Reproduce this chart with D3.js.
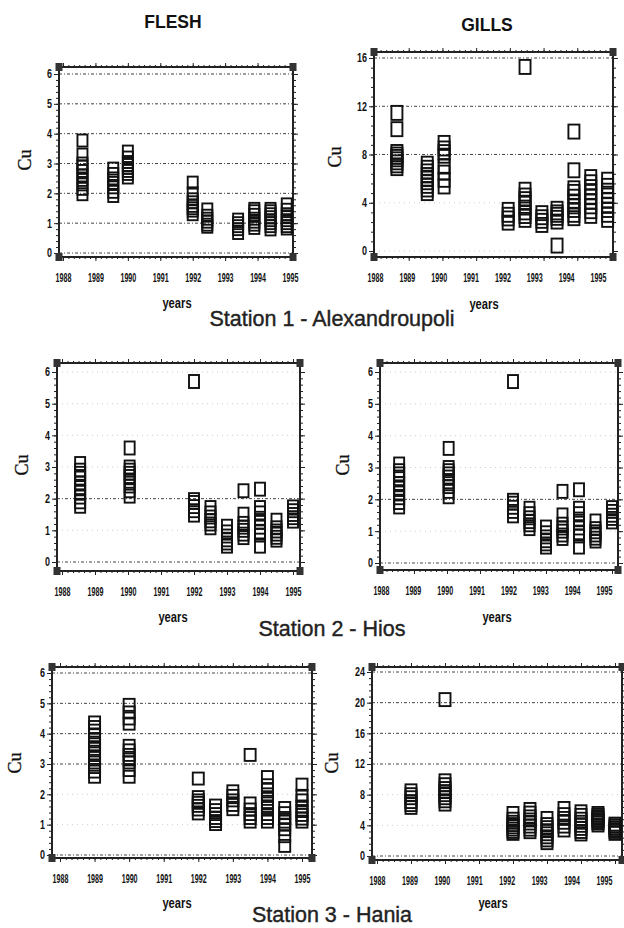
<!DOCTYPE html>
<html>
<head>
<meta charset="utf-8">
<script src="https://cdn.jsdelivr.net/npm/d3@7/dist/d3.min.js"></script>
<style>
	body { margin: 0; background: #fff; }
	svg { display: block; }
	.tick text { font-family: 'Liberation Sans', Arial, sans-serif; font-weight: bold; fill: #111; }
	.tick line { stroke: #222; }
</style>
</head>
<body>
<svg id="chart" width="624" height="928"></svg>
<script>

// ---- data ----

var yearTicks = [1988, 1989, 1990, 1991, 1992, 1993, 1994, 1995];
var fleshTicks = [0, 1, 2, 3, 4, 5, 6];
var alexGillsTicks = [0, 4, 8, 12, 16];
var haniaGillsTicks = [0, 4, 8, 12, 16, 20, 24];

// station 1 - Alexandroupoli
var alexFleshTimes = [1988.6, 1989.55, 1990.0, 1992.0, 1992.45, 1993.4, 1993.9, 1994.4, 1994.9];
var alexFleshCu = [
	[1.97, 2.15, 2.3, 2.45, 2.6, 2.75, 2.9, 3.0, 3.3, 3.77],
	[1.91, 2.05, 2.2, 2.35, 2.5, 2.65, 2.83],
	[2.53, 2.65, 2.75, 2.85, 2.95, 3.05, 3.2, 3.4],
	[1.3, 1.42, 1.5, 1.58, 1.7, 1.8, 2.0, 2.36],
	[0.88, 0.95, 1.05, 1.15, 1.25, 1.46],
	[0.67, 0.8, 0.9, 1.0, 1.12],
	[0.84, 0.95, 1.05, 1.15, 1.28, 1.4, 1.48],
	[0.79, 0.9, 1.0, 1.1, 1.2, 1.3, 1.4, 1.48],
	[0.82, 0.9, 1.0, 1.1, 1.2, 1.3, 1.45, 1.63]
];
var alexGillsTimes = [1988.65, 1989.55, 1990.05, 1991.95, 1992.45, 1992.95, 1993.4, 1993.9, 1994.4, 1994.9];
var alexGillsCu = [
	[6.87, 7.1, 7.35, 7.6, 7.8, 8.0, 8.21, 10.1, 11.45],
	[4.8, 5.1, 5.4, 5.7, 6.0, 6.3, 6.6, 6.9, 7.24],
	[5.35, 5.9, 6.5, 7.0, 7.9, 8.2, 8.5, 8.96],
	[2.35, 2.7, 3.0, 3.41],
	[2.58, 2.9, 3.2, 3.6, 4.0, 4.3, 4.6, 5.08, 15.26],
	[2.16, 2.5, 2.8, 3.14],
	[0.45, 2.44, 2.75, 3.0, 3.2, 3.5],
	[2.72, 3.0, 3.4, 3.7, 4.1, 4.5, 4.9, 5.2, 6.69, 9.9],
	[2.91, 3.3, 3.7, 4.1, 4.5, 4.9, 5.3, 5.7, 6.13],
	[2.58, 3.0, 3.4, 3.8, 4.2, 4.6, 5.0, 5.4, 5.91]
];

// station 2 - Hios
var hiosTimes = [1988.55, 1990.05, 1992.0, 1992.5, 1993.0, 1993.5, 1994.0, 1994.5, 1995.0];
var hiosFleshCu = [
	[1.76, 1.9, 2.05, 2.2, 2.35, 2.5, 2.65, 2.8, 2.9, 3.11],
	[2.08, 2.25, 2.4, 2.55, 2.7, 2.8, 2.9, 3.0, 3.6],
	[1.48, 1.62, 1.75, 1.88, 1.97, 5.7],
	[1.08, 1.2, 1.3, 1.42, 1.55, 1.72],
	[0.5, 0.6, 0.7, 0.82, 0.95, 1.13],
	[0.77, 0.88, 1.0, 1.1, 1.22, 1.51, 2.25],
	[0.5, 0.85, 0.95, 1.1, 1.25, 1.38, 1.55, 1.72, 2.3],
	[0.69, 0.78, 0.88, 0.98, 1.08, 1.32],
	[1.29, 1.4, 1.5, 1.62, 1.74]
];
// the printed gills panel for Hios repeats the flesh values
var hiosGillsCu = hiosFleshCu;

// station 3 - Hania
var haniaTimes = [1989.0, 1990.0, 1992.0, 1992.5, 1993.0, 1993.5, 1994.0, 1994.5, 1995.0];
var haniaFleshCu = [
	[2.58, 2.75, 2.9, 3.05, 3.2, 3.35, 3.5, 3.65, 3.8, 3.95, 4.1, 4.22, 4.37],
	[2.58, 2.8, 3.05, 3.15, 3.3, 3.45, 3.6, 4.33, 4.5, 4.7, 4.95],
	[1.37, 1.5, 1.62, 1.72, 1.8, 1.91, 2.52],
	[1.02, 1.12, 1.22, 1.35, 1.48, 1.63],
	[1.51, 1.65, 1.8, 1.95, 2.1],
	[1.1, 1.22, 1.35, 1.5, 1.7, 3.3],
	[1.1, 1.22, 1.35, 1.55, 1.7, 1.85, 2.0, 2.15, 2.3, 2.57],
	[0.3, 0.62, 0.85, 1.0, 1.1, 1.22, 1.38, 1.55],
	[1.1, 1.2, 1.32, 1.45, 1.6, 1.8, 1.95, 2.32]
];
var haniaGillsCu = [
	[6.34, 6.7, 7.1, 7.6, 8.0, 8.5],
	[6.77, 7.2, 7.6, 8.0, 8.4, 8.8, 9.3, 9.81, 20.4],
	[2.95, 3.2, 3.5, 3.8, 4.1, 4.4, 4.8, 5.55],
	[3.17, 3.5, 3.9, 4.3, 4.7, 5.1, 5.6, 6.07],
	[1.74, 2.1, 2.5, 2.9, 3.3, 3.7, 4.1, 4.9],
	[3.39, 3.9, 4.4, 4.9, 5.4, 6.2],
	[2.87, 3.2, 3.6, 4.0, 4.4, 4.8, 5.3, 5.77],
	[4.04, 4.3, 4.5, 4.7, 4.9, 5.1, 5.3, 5.55],
	[2.95, 3.2, 3.45, 3.7, 3.95, 4.16]
];

var columnTitles = ['FLESH', 'GILLS'];
var stationTitles = ['Station 1 - Alexandroupoli', 'Station 2 - Hios', 'Station 3 - Hania'];

// ---- layout ----
// labelShift: the printed year labels drift left of their ticks in some panels

var panels = [
	{times: alexFleshTimes, cu: alexFleshCu, ticks: fleshTicks, strong: [0,1,2,3,4,5,6], labelShift: 0,
		frame: [59, 67, 293, 257], xr: [63, 290], yr: [253, 74], box: [10, 12], cuAt: [25, 160], yearsAt: [177, 303]},
	{times: alexGillsTimes, cu: alexGillsCu, ticks: alexGillsTicks, strong: [8, 12, 16], labelShift: 13,
		frame: [374, 52, 613, 257], xr: [375, 611], yr: [251, 58], box: [11, 14], cuAt: [335, 157], yearsAt: [484, 304]},
	{times: hiosTimes, cu: hiosFleshCu, ticks: fleshTicks, strong: [0, 2], labelShift: 0,
		frame: [57, 363, 300, 571], xr: [62, 293], yr: [562, 372], box: [10, 13], cuAt: [22, 465], yearsAt: [173, 617]},
	{times: hiosTimes, cu: hiosGillsCu, ticks: fleshTicks, strong: [0, 2], labelShift: 8,
		frame: [380, 363, 618, 570], xr: [381, 612], yr: [563, 372], box: [10, 13], cuAt: [343, 465], yearsAt: [497, 617]},
	{times: haniaTimes, cu: haniaFleshCu, ticks: fleshTicks, strong: [0, 3, 4, 5, 6], labelShift: 0,
		frame: [52, 667, 312, 858], xr: [60, 302], yr: [855, 673], box: [11, 12], cuAt: [15, 763], yearsAt: [177, 903]},
	{times: haniaTimes, cu: haniaGillsCu, ticks: haniaGillsTicks, strong: [0, 12, 16, 20, 24], labelShift: 11,
		frame: [372, 667, 622, 860], xr: [377, 615], yr: [856, 672], box: [11, 13], cuAt: [332, 763], yearsAt: [493, 903]}
];

var svg = d3.select('#chart');
var ink = '#111';

svg.selectAll('.colTitle')
	.data(columnTitles)
	.enter()
	.append('text')
	.attr('x', (d, i) => i === 0 ? 173 : 487)
	.attr('y', (d, i) => i === 0 ? 28 : 31)
	.attr('text-anchor', 'middle')
	.style('font-family', 'Liberation Sans, Arial, sans-serif')
	.style('font-weight', 'bold')
	.style('font-size', '17.5px')
	.style('fill', ink)
	.text(d => d);

svg.selectAll('.station')
	.data(stationTitles)
	.enter()
	.append('text')
	.attr('x', 332)
	.attr('y', (d, i) => [326, 636, 922][i])
	.attr('text-anchor', 'middle')
	.style('font-family', 'Liberation Sans, Arial, sans-serif')
	.style('font-size', '21.5px')
	.style('fill', '#222')
	.style('stroke', '#222')
	.style('stroke-width', 0.4)
	.text(d => d);

panels.forEach(drawPanel);

function drawPanel(p) {

	var L = p.frame[0], T = p.frame[1], R = p.frame[2], B = p.frame[3];
	var yMax = p.ticks[p.ticks.length - 1];

	var x = d3.scaleLinear().domain([1988, 1995]).range(p.xr);
	var y = d3.scaleLinear().domain([0, yMax]).range(p.yr);

	var g = svg.append('g');

	// grid
	g.selectAll('.grid')
		.data(p.ticks)
		.enter()
		.append('line')
		.attr('x1', L).attr('x2', R)
		.attr('y1', d => y(d)).attr('y2', d => y(d))
		.attr('stroke', d => p.strong.indexOf(d) > -1 ? '#444' : '#cfcfcf')
		.attr('stroke-width', 1)
		.attr('stroke-dasharray', d => p.strong.indexOf(d) > -1 ? '3,2,1,2' : '1,4');

	// minor tick values inside the frame
	var yStep = (p.ticks[1] - p.ticks[0]) / 5;
	var yMinor = d3.range(Math.ceil(y.invert(B) / yStep), Math.floor(y.invert(T) / yStep) + 1)
		.map(k => +(k * yStep).toFixed(4));
	var xMinor = d3.range(Math.ceil(x.invert(L) * 6), Math.floor(x.invert(R) * 6) + 1)
		.map(k => k / 6);

	var clean = sel => sel.select('.domain').remove();

	// left axis with labels
	g.append('g')
		.attr('transform', `translate(${L},0)`)
		.call(d3.axisLeft(y).tickValues(p.ticks).tickSize(5).tickPadding(2).tickFormat(d3.format('d')))
		.call(clean)
		.call(a => a.selectAll('text')
			.style('font-size', '12px')
			.attr('x', null)
			.attr('transform', 'translate(-7,0) scale(0.75,1)'));

	g.append('g')
		.attr('transform', `translate(${L},0)`)
		.call(d3.axisLeft(y).tickValues(yMinor).tickSize(3).tickFormat(''))
		.call(clean);

	g.append('g')
		.attr('transform', `translate(${R},0)`)
		.call(d3.axisRight(y).tickValues(p.ticks).tickSize(5).tickFormat(''))
		.call(clean);

	g.append('g')
		.attr('transform', `translate(${R},0)`)
		.call(d3.axisRight(y).tickValues(yMinor).tickSize(3).tickFormat(''))
		.call(clean);

	// bottom axis with condensed year labels
	g.append('g')
		.attr('transform', `translate(0,${B})`)
		.call(d3.axisBottom(x).tickValues(yearTicks).tickSize(4).tickFormat(d3.format('d')))
		.call(clean)
		.call(a => a.selectAll('text')
			.attr('x', 0)
			.attr('y', 0)
			.attr('dy', '0.35em')
			.style('font-size', '13px')
			.attr('transform', d => `translate(${-p.labelShift * (d - 1988) / 7},20) scale(0.55,1)`));

	g.append('g')
		.attr('transform', `translate(0,${B})`)
		.call(d3.axisBottom(x).tickValues(xMinor).tickSize(2).tickFormat(''))
		.call(clean);

	g.append('g')
		.attr('transform', `translate(0,${T})`)
		.call(d3.axisTop(x).tickValues(yearTicks).tickSize(4).tickFormat(''))
		.call(clean);

	g.append('g')
		.attr('transform', `translate(0,${T})`)
		.call(d3.axisTop(x).tickValues(xMinor).tickSize(2).tickFormat(''))
		.call(clean);

	// frame and corner blocks
	g.append('rect')
		.attr('x', L).attr('y', T)
		.attr('width', R - L).attr('height', B - T)
		.attr('fill', 'none')
		.attr('stroke', '#222')
		.attr('stroke-width', 2);

	g.selectAll('.corner')
		.data([[L, T], [R, T], [L, B], [R, B]])
		.enter()
		.append('rect')
		.attr('x', d => d[0] - 3.5)
		.attr('y', d => d[1] - 4)
		.attr('width', 7)
		.attr('height', 8)
		.attr('fill', '#333');

	// samples
	var pts = [];
	p.times.forEach((t, i) => {
		p.cu[i].forEach(v => pts.push({t: t, v: v}));
	});

	g.selectAll('.sample')
		.data(pts)
		.enter()
		.append('rect')
		.attr('x', d => x(d.t) - p.box[0] / 2)
		.attr('y', d => y(d.v) - p.box[1] / 2)
		.attr('width', p.box[0])
		.attr('height', p.box[1])
		.attr('fill', 'none')
		.attr('stroke', '#111')
		.attr('stroke-width', 1.9);

	// axis titles
	g.append('text')
		.attr('transform', `translate(${p.cuAt[0]},${p.cuAt[1]}) rotate(-90)`)
		.attr('text-anchor', 'middle')
		.attr('dy', '0.35em')
		.style('font-family', 'Liberation Serif, Times New Roman, serif')
		.style('font-size', '18px')
		.style('fill', ink)
		.style('stroke', ink)
		.style('stroke-width', 0.3)
		.text('Cu');

	g.append('text')
		.attr('transform', `translate(${p.yearsAt[0]},${p.yearsAt[1]}) scale(0.8,1)`)
		.attr('dy', '0.35em')
		.attr('text-anchor', 'middle')
		.style('font-family', 'Liberation Sans, Arial, sans-serif')
		.style('font-weight', 'bold')
		.style('font-size', '14px')
		.style('fill', ink)
		.text('years');
}

</script>
</body>
</html>
